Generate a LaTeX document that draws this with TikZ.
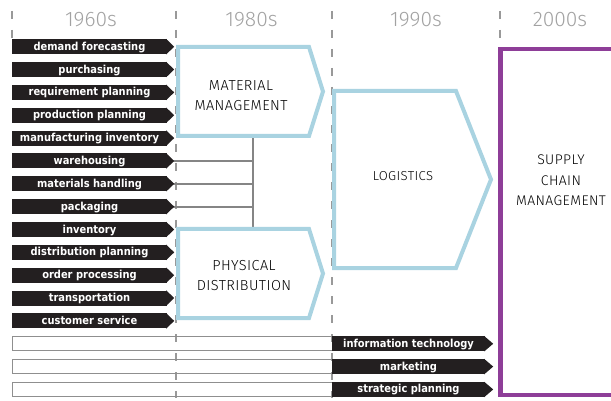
\documentclass[tikz,border=0pt]{standalone}
\usepackage{fontspec}
\IfFontExistsTF{Fira Sans Light}{%
  \newfontfamily\titlefont{Fira Sans Light}[LetterSpace=3]%
  \newfontfamily\yearfont{Fira Sans Light}%
}{%
  \newfontfamily\titlefont{DejaVu Sans}[LetterSpace=2]%
  \newfontfamily\yearfont{DejaVu Sans}%
}
\newfontfamily\labfont{DejaVu Sans Condensed}
\definecolor{tagblk}{HTML}{231F20}
\definecolor{boxblue}{HTML}{A9D3E1}
\definecolor{scmpurple}{HTML}{8E3E98}
\definecolor{conngray}{HTML}{858585}
\definecolor{gridgray}{HTML}{999999}
\definecolor{yeargray}{HTML}{A2A2A2}
\definecolor{bargray}{HTML}{8F8F8F}
\tikzset{
  tag/.style={fill=tagblk, text=white, font=\labfont\bfseries\fontsize{11}{12}\selectfont,
    inner sep=0pt, minimum height=15pt, text height=9pt, text depth=2pt, minimum width=#1},
  tagtip/.style={fill=tagblk},
  emptybar/.style={draw=bargray, line width=0.9pt, minimum width=320pt, minimum height=14pt, inner sep=0pt},
  grid/.style={draw=gridgray, line width=1.2pt, dash pattern=on 8pt off 11pt},
  conn/.style={draw=conngray, line width=2pt},
  bluebox/.style={draw=boxblue, line width=4pt, fill=white, line join=miter},
  scmbox/.style={draw=scmpurple, line width=4.2pt},
  year/.style={text=yeargray, font=\yearfont\fontsize{21}{24}\selectfont, inner sep=0pt},
  title/.style={text=black, font=\titlefont\fontsize{14.5}{20}\selectfont, align=center, inner sep=0pt},
  scmtitle/.style={title, font=\titlefont\fontsize{14}{20.5}\selectfont},
  smalltitle/.style={title, font=\titlefont\fontsize{13}{20.5}\selectfont},
}
\begin{document}
\begin{tikzpicture}[x=1pt,y=-1pt]
\useasboundingbox (0,0) rectangle (611,401);
% period guides
\draw[grid] (12,11) -- (12,40);
\draw[grid] (176,11) -- (176,398);
\draw[grid] (332,11) -- (332,398);
\draw[grid] (500,11) -- (500,50);
% years
\node[year] (y60) at (91,19.5) {1960s};
\node[year] (y80) at (251.5,19.5) {1980s};
\node[year] (y90) at (416,19.5) {1990s};
\node[year] (y00) at (560,19.5) {2000s};
% connector junctions
\coordinate (mmb) at (252.5,136);
\coordinate (pdt) at (252.5,229);
% left tags
\foreach \i/\t in {0/demand forecasting,1/purchasing,2/requirement planning,3/production planning,
  4/manufacturing inventory,5/warehousing,6/materials handling,7/packaging,8/inventory,
  9/distribution planning,10/order processing,11/transportation,12/customer service}
  \node[tag=155pt] (r\i) at (89.5,{46.7+22.85*\i}) {\t};
\draw[conn] (mmb) -- (pdt);
\foreach \i in {5,6,7} \draw[conn] (r\i.east) -- (r\i.east -| mmb);
\foreach \i in {0,...,12}
  \fill[tagtip] ([xshift=-1pt]r\i.north east) -- ([xshift=7pt]r\i.east) -- ([xshift=-1pt]r\i.south east) -- cycle;
% empty bars
\foreach \i in {0,1,2}
  \node[emptybar] (e\i) at (172,{343.75+22.85*\i}) {};
% bottom right tags
\foreach \i/\t in {0/information technology,1/marketing,2/strategic planning}
  \node[tag=153pt] (b\i) at (408.5,{343.75+22.85*\i}) {\t};
\foreach \i in {0,1,2}
  \fill[tagtip] ([xshift=-1pt]b\i.north east) -- ([xshift=8pt]b\i.east) -- ([xshift=-1pt]b\i.south east) -- cycle;
% boxes
\draw[bluebox] (178,47) -- (309,47) -- (323,91.5) -- (309,136) -- (178,136) -- cycle;
\draw[bluebox] (178,229) -- (309,229) -- (323,273.5) -- (309,318) -- (178,318) -- cycle;
\draw[bluebox] (334,91) -- (456,91) -- (491,179.5) -- (456,268) -- (334,268) -- cycle;
\draw[scmbox] (500.5,48.7) rectangle (650,395);
\node[title] (mm) at (241,96) {MATERIAL\\MANAGEMENT};
\node[title] (pd) at (244,275.5) {PHYSICAL\\DISTRIBUTION};
\node[smalltitle] (lg) at (403,176) {LOGISTICS};
\node[scmtitle] (scm) at (561,180.5) {SUPPLY\\CHAIN\\MANAGEMENT};
\end{tikzpicture}
\end{document}
